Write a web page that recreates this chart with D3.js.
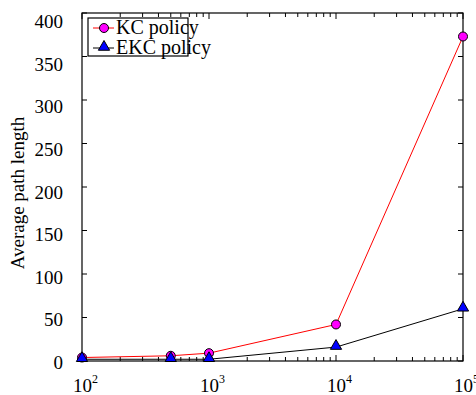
<!DOCTYPE html>
<html>
<head>
<meta charset="utf-8">
<script src="https://cdn.jsdelivr.net/npm/d3@7"></script>
<style>
  body { margin: 0; background: #fff; }
  svg { font-family: "Liberation Serif", "Times New Roman", serif; }
</style>
</head>
<body>
<div id="chart"></div>
<script>
const nodes = [100, 500, 1000, 10000, 100000];
const kcPolicy = [4, 6, 9, 42, 373];
const ekcPolicy = [2, 2, 2, 16, 60];
const yTicks = [0, 50, 100, 150, 200, 250, 300, 350, 400];
const xTicks = [100, 1000, 10000, 100000];

const width = 476, height = 395;
const margin = { top: 13, right: 13, bottom: 34, left: 82 };
const chartWidth = width - margin.left - margin.right;
const chartHeight = height - margin.top - margin.bottom;

const svg = d3.select("#chart").append("svg")
  .attr("width", width)
  .attr("height", height);

const g = svg.append("g").attr("transform", `translate(${margin.left},${margin.top})`);

const x = d3.scaleLog().domain([100, 100000]).range([0, chartWidth]);
const y = d3.scaleLinear().domain([0, 400]).range([chartHeight, 0]);

// minor ticks on log axis
const minorTicks = [];
for (let d = 100; d < 100000; d *= 10) {
  for (let k = 2; k <= 9; k++) minorTicks.push(d * k);
}

// frame
g.append("rect")
  .attr("width", chartWidth).attr("height", chartHeight)
  .attr("fill", "none").attr("stroke", "#000").attr("stroke-width", 1.2);

// y ticks, inside on both sides
g.selectAll(".ytl").data(yTicks).enter().append("line")
  .attr("x1", 0).attr("x2", 5)
  .attr("y1", d => y(d)).attr("y2", d => y(d))
  .attr("stroke", "#000");
g.selectAll(".ytr").data(yTicks).enter().append("line")
  .attr("x1", chartWidth).attr("x2", chartWidth - 5)
  .attr("y1", d => y(d)).attr("y2", d => y(d))
  .attr("stroke", "#000");
// labels sit a little low, more so near the top (as in the original)
g.selectAll(".ylab").data(yTicks).enter().append("text")
  .attr("x", -19).attr("y", d => y(d) + 8 + 7 * d / 400)
  .attr("text-anchor", "end")
  .attr("font-size", 19)
  .text(d => d);

// x ticks, inside on bottom and top
[[chartHeight, -1], [0, 1]].forEach(([base, dir]) => {
  g.selectAll(null).data(xTicks).enter().append("line")
    .attr("x1", d => x(d)).attr("x2", d => x(d))
    .attr("y1", base).attr("y2", base + dir * 6)
    .attr("stroke", "#000");
  g.selectAll(null).data(minorTicks).enter().append("line")
    .attr("x1", d => x(d)).attr("x2", d => x(d))
    .attr("y1", base).attr("y2", base + dir * 4)
    .attr("stroke", "#000");
});

const xl = g.selectAll(".xlab").data(xTicks).enter().append("text")
  .attr("x", d => x(d) - 9)
  .attr("y", chartHeight + 31)
  .attr("font-size", 19);
xl.append("tspan").text("10");
xl.append("tspan").attr("dy", -9).attr("font-size", 12).text(d => Math.round(Math.log10(d)));

// y label
svg.append("text")
  .attr("transform", `translate(24,${margin.top + chartHeight / 2 + 6}) rotate(-90)`)
  .attr("text-anchor", "middle")
  .attr("font-size", 19)
  .text("Average path length");

// lines
const line = d3.line().x(d => x(d[0])).y(d => y(d[1]));
g.append("path")
  .datum(nodes.map((n, i) => [n, kcPolicy[i]]))
  .attr("d", line).attr("fill", "none").attr("stroke", "#ff0000").attr("stroke-width", 1);
g.append("path")
  .datum(nodes.map((n, i) => [n, ekcPolicy[i]]))
  .attr("d", line).attr("fill", "none").attr("stroke", "#000").attr("stroke-width", 1);

const tri = d3.symbol().type(d3.symbolTriangle).size(55);

g.selectAll(".kc").data(nodes.map((n, i) => [n, kcPolicy[i]])).enter().append("circle")
  .attr("cx", d => x(d[0])).attr("cy", d => y(d[1]))
  .attr("r", 4.5).attr("fill", "#ff00ff").attr("stroke", "#000").attr("stroke-width", 1);
g.selectAll(".ekc").data(nodes.map((n, i) => [n, ekcPolicy[i]])).enter().append("path")
  .attr("d", tri)
  .attr("transform", d => `translate(${x(d[0])},${y(d[1]) - 1})`)
  .attr("fill", "#0000ff").attr("stroke", "#000").attr("stroke-width", 1);

// legend
const lg = svg.append("g");
lg.append("rect")
  .attr("x", 88).attr("y", 18).attr("width", 100).attr("height", 38)
  .attr("fill", "#fff").attr("stroke", "#000").attr("stroke-width", 1.2);
const legendItems = [
  { label: "KC policy", color: "#ff0000", y: 28, marker: "circle" },
  { label: "EKC policy", color: "#000", y: 48, marker: "tri" }
];
legendItems.forEach(it => {
  lg.append("line").attr("x1", 93).attr("x2", 114).attr("y1", it.y).attr("y2", it.y)
    .attr("stroke", it.color);
  if (it.marker === "circle") {
    lg.append("circle").attr("cx", 104).attr("cy", it.y).attr("r", 4.5)
      .attr("fill", "#ff00ff").attr("stroke", "#000");
  } else {
    lg.append("path").attr("d", tri).attr("transform", `translate(104,${it.y - 1})`)
      .attr("fill", "#0000ff").attr("stroke", "#000");
  }
  lg.append("text").attr("x", 116).attr("y", it.y + 6).attr("font-size", 20).text(it.label);
});
</script>
</body>
</html>
